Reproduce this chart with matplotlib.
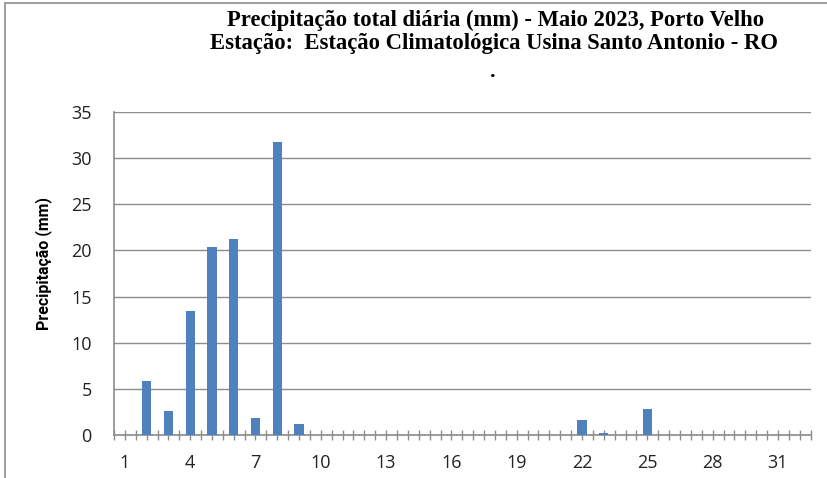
import matplotlib
matplotlib.use("Agg")
import matplotlib.pyplot as plt
from matplotlib.patches import Rectangle
from matplotlib import font_manager as fm

days = list(range(1, 32))
precip = [0, 5.8, 2.6, 13.4, 20.4, 21.2, 1.8, 31.8, 1.2, 0,
          0, 0, 0, 0, 0, 0, 0, 0, 0, 0,
          0, 1.6, 0.2, 0, 2.8, 0, 0, 0, 0, 0, 0]
xtick_labels = [1, 4, 7, 10, 13, 16, 19, 22, 25, 28, 31]
yticks = [0, 5, 10, 15, 20, 25, 30, 35]

title1 = "Precipitação total diária (mm) - Maio 2023, Porto Velho"
title2 = "Estação:  Estação Climatológica Usina Santo Antonio - RO"
ylabel = "Precipitação (mm)"

fig = plt.figure(figsize=(8.27, 4.78), dpi=100)
fig.patch.set_facecolor("white")

fig.add_artist(Rectangle((5/827, -0.01), 1.0, 1 - 3/478 + 0.01, transform=fig.transFigure,
                         fill=False, edgecolor="#8c8c8c", linewidth=1.2))

ax = fig.add_axes([114/827, 1 - 435/478, (810.6 - 114)/827, (435 - 112)/478])
ax.bar(days, precip, width=0.42, color="#4F81BD", zorder=3)

ax.set_xlim(0.5, 32.5)
ax.set_ylim(0, 35)
ax.set_yticks(yticks)
ax.set_yticklabels([str(v) for v in yticks], fontsize=13, family=["Open Sans", "DejaVu Sans"],
                   color="#222222")
ax.yaxis.grid(True, color="#8c8c8c", linewidth=1.0, zorder=0)
ax.tick_params(axis="y", length=0, pad=16)

ax.set_xticks(list(range(1, 33)))
ax.set_xticklabels([str(d) if d in xtick_labels else "" for d in range(1, 33)],
                   fontsize=13, family=["Open Sans", "DejaVu Sans"], color="#222222")
ax.set_xticks([d + 0.5 for d in range(0, 33)], minor=True)
ax.tick_params(axis="x", which="both", direction="inout", length=7, width=1,
               color="#8c8c8c", pad=10)

for s in ["top", "right"]:
    ax.spines[s].set_visible(False)
for s in ["left", "bottom"]:
    ax.spines[s].set_color("#8c8c8c")
    ax.spines[s].set_linewidth(1.2)

names = {f.name for f in fm.fontManager.ttflist}
if "Liberation Sans Narrow" in names:
    yl_kw = dict(family="Liberation Sans Narrow", fontsize=13)
else:
    yl_kw = dict(family=["Roboto", "DejaVu Sans"], fontsize=11.5)
ax.set_ylabel(ylabel, fontweight="bold", **yl_kw)
ax.yaxis.set_label_coords(-(114 - 52)/(810.6 - 114), (435 - 264)/(435 - 112))

fig.text(496/827, 1 - 20/478, title1, ha="center", va="center", fontsize=16.3,
         fontweight="bold", family=["Liberation Serif", "DejaVu Serif"])
fig.text(494/827, 1 - 43/478, title2, ha="center", va="center", fontsize=16.3,
         fontweight="bold", family=["Liberation Serif", "DejaVu Serif"])
fig.text(493/827, 1 - 72/478, ".", ha="center", va="center", fontsize=16,
         fontweight="bold", family=["Liberation Serif", "DejaVu Serif"])

fig.savefig("out.png", dpi=100)
